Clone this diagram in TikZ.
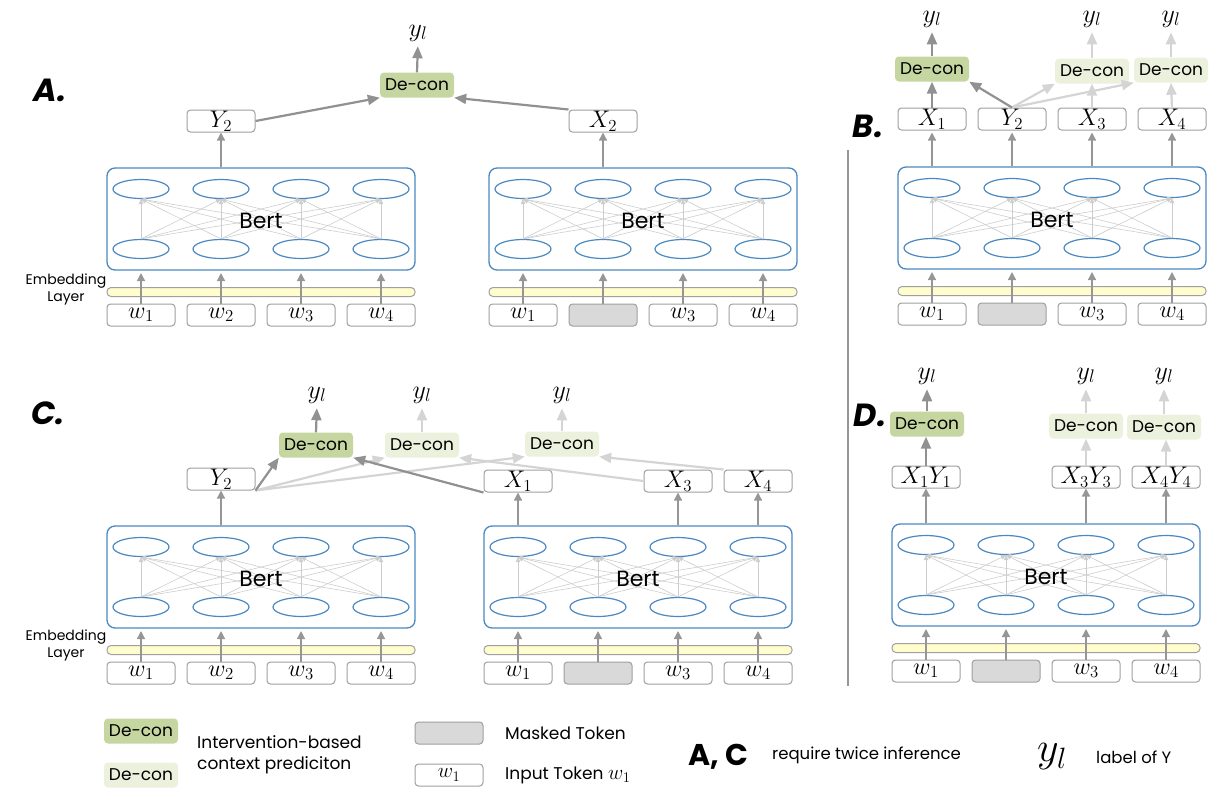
\RequirePackage{fix-cm}
\documentclass[tikz,border=0pt]{standalone}
\usepackage{fontspec}
\setmainfont{Poppins}
\usetikzlibrary{arrows.meta,shapes.geometric}
\definecolor{bertblue}{RGB}{75,135,192}
\definecolor{tokgray}{RGB}{160,160,160}
\definecolor{maskgray}{RGB}{217,217,217}
\definecolor{barfill}{RGB}{255,252,205}
\definecolor{innergray}{RGB}{205,205,205}
\definecolor{midgray}{RGB}{150,150,150}
\definecolor{darkarr}{RGB}{145,145,145}
\definecolor{lightarr}{RGB}{212,212,212}
\definecolor{decondark}{RGB}{198,214,160}
\definecolor{deconlight}{RGB}{235,241,220}
\tikzset{
  blk/.style={draw=bertblue, line width=1.3pt, rounded corners=8pt, minimum width=308pt, minimum height=102pt, inner sep=0pt},
  ell/.style={ellipse, draw=bertblue, line width=1.2pt, minimum width=56pt, minimum height=19pt, inner sep=0pt},
  tok/.style={draw=tokgray, line width=1pt, rounded corners=3.5pt, minimum width=68pt, minimum height=22pt, inner sep=0pt, fill=white, font=\fontsize{24}{26}\selectfont},
  masktok/.style={tok, fill=maskgray},
  embbar/.style={draw=tokgray, fill=barfill, line width=1pt, rounded corners=4pt, minimum width=308pt, minimum height=9pt, inner sep=0pt},
  dcd/.style={fill=decondark, rounded corners=4pt, minimum width=74pt, minimum height=25pt, inner sep=0pt, font=\fontsize{17}{19}\selectfont},
  dcl/.style={dcd, fill=deconlight},
  inarr/.style={draw=innergray, line width=0.6pt, -{Triangle[length=5pt,width=4.5pt]}},
  uparr/.style={draw=midgray, line width=1.4pt, -{Triangle[length=8pt,width=8pt]}},
  darkc/.style={draw=darkarr, line width=2.2pt, -{Triangle[length=12pt,width=10pt]}},
  lightc/.style={draw=lightarr, line width=2.2pt, -{Triangle[length=12pt,width=10pt]}},
  ylab/.style={font=\fontsize{26}{28}\selectfont, inner sep=0pt, anchor=base},
  plab/.style={font=\fontsize{32}{34}\selectfont\bfseries\itshape, inner sep=0pt},
  bertlab/.style={font=\fontsize{22}{24}\selectfont, inner sep=0pt},
  emb/.style={font=\fontsize{14}{17}\selectfont, align=center, inner sep=0pt},
  legtxt/.style={font=\fontsize{17}{21}\selectfont, align=left, inner sep=0pt, anchor=west},
  smalltxt/.style={font=\fontsize{16.5}{19}\selectfont, inner sep=0pt, anchor=west}
}
% #1 name, #2 left x, #3 top y, #4 masked index (0 = none)
\newcommand\bblock[4]{%
  \node[blk] (#1) at ({#2+154},{#3+51}) {};
  \foreach \i in {1,...,4}{
    \node[ell] (#1-t\i) at ({#2+34+80*(\i-1)},{#3+21}) {};
    \node[ell] (#1-b\i) at ({#2+34+80*(\i-1)},{#3+81}) {};
  }
  \foreach \i in {1,...,4}{
    \foreach \j in {1,...,4}{
      \draw[inarr] (#1-b\i.north) -- (#1-t\j.south);
    }
  }
  \node[bertlab] (#1-lbl) at ({#2+154},{#3+53}) {Bert};
  \node[embbar] (#1-bar) at ({#2+154},{#3+124}) {};
  \foreach \i in {1,...,4}{
    \ifnum\i=#4
      \node[masktok] (#1-w\i) at ({#2+34+80*(\i-1)},{#3+147}) {};
    \else
      \node[tok] (#1-w\i) at ({#2+34+80*(\i-1)},{#3+147}) {$w_\i$};
    \fi
    \coordinate (#1-in\i) at ({#2+34+80*(\i-1)},{#3+105});
    \draw[uparr] (#1-w\i.north) -- (#1-in\i);
  }
}
\begin{document}
\begin{tikzpicture}[x=1pt,y=-1pt]
\useasboundingbox (0,0) rectangle (1224,804);

% ---------- Panel A ----------
\node[plab] (labA) at (50,90) {A.};
\node[emb] (embA) at (66,289) {Embedding\\Layer};
\bblock{A1}{107}{168}{0}
\bblock{A2}{489}{168}{2}
\node[tok] (AY2) at (221,121) {$Y_2$};
\node[tok] (AX2) at (603,121) {$X_2$};
\draw[uparr] (AY2 |- A1.north) -- (AY2.south);
\draw[uparr] (AX2 |- A2.north) -- (AX2.south);
\node[dcd] (AD) at (417,85) {De-con};
\node[ylab] (Ay) at (418,36) {$y_l$};
\draw[darkc] (AY2.east) -- (AD.south west);
\draw[darkc] (AX2.north west) -- (AD.south east);
\draw[darkc, shorten >=5pt] (AD.north) -- (Ay.south);

% ---------- Panel B ----------
\draw[draw=midgray, line width=1.5pt] (848,150) -- (848,686);
\node[plab] (labB) at (868,126) {B.};
\bblock{B}{898}{167}{2}
\node[tok] (BX1) at (932,119) {$X_1$};
\node[tok] (BY2) at (1012,119) {$Y_2$};
\node[tok] (BX3) at (1092,119) {$X_3$};
\node[tok] (BX4) at (1172,119) {$X_4$};
\foreach \n in {BX1,BY2,BX3,BX4}{\draw[uparr, shorten >=2pt] (\n |- B.north) -- (\n.south);}
\node[dcd] (BD1) at (932,69) {De-con};
\node[dcl] (BD3) at (1092,71) {De-con};
\node[dcl] (BD4) at (1171,70) {De-con};
\node[ylab] (By1) at (932,22) {$y_l$};
\node[ylab] (By3) at (1092,22) {$y_l$};
\node[ylab] (By4) at (1171,22) {$y_l$};
\draw[lightc] (BY2.north) -- (BD3.south west);
\draw[lightc] (BY2.north) -- (BD4.south west);
\draw[lightc] (BX3.north) -- (BD3.south);
\draw[lightc] (BX4.north) -- (BD4 |- BD4.south);
\draw[darkc] (BX1.north) -- (BD1.south);
\draw[darkc] (BY2.north) -- (BD1.south east);
\draw[darkc, shorten >=5pt] (BD1.north) -- (By1.south);
\draw[lightc, shorten >=5pt] (BD3.north) -- (By3.south);
\draw[lightc, shorten >=5pt] (BD4.north) -- (By4.south);

% ---------- Panel C ----------
\node[plab] (labC) at (48,413) {C.};
\node[emb] (embC) at (66,645) {Embedding\\Layer};
\bblock{C1}{107}{526}{0}
\bblock{C2}{484}{526}{2}
\node[tok] (CY2) at (221,479) {$Y_2$};
\node[tok] (CX1) at (518,481) {$X_1$};
\node[tok] (CX3) at (678,481) {$X_3$};
\node[tok] (CX4) at (758,481) {$X_4$};
\draw[uparr] (CY2 |- C1.north) -- (CY2.south);
\foreach \n in {CX1,CX3,CX4}{\draw[uparr] (\n |- C2.north) -- (\n.south);}
\node[dcd] (CD1) at (316,445) {De-con};
\node[dcl] (CD2) at (422,445) {De-con};
\node[dcl] (CD3) at (562,444) {De-con};
\node[ylab] (Cy1) at (317,398) {$y_l$};
\node[ylab] (Cy2) at (422,398) {$y_l$};
\node[ylab] (Cy3) at (562,398) {$y_l$};
\draw[lightc] (CY2.south east) -- (CD2.south west);
\draw[lightc] (CY2.south east) -- (CD3.south west);
\draw[lightc] (CX3.west) -- (CD2.south east);
\draw[lightc] (CX4.north west) -- (CD3.south east);
\draw[darkc] (CY2.south east) -- (CD1.south west);
\draw[darkc] (CX1.south west) -- (CD1.south east);
\draw[darkc, shorten >=5pt] (CD1.north) -- (Cy1.south);
\draw[lightc, shorten >=5pt] (CD2.north) -- (Cy2.south);
\draw[lightc, shorten >=5pt] (CD3.north) -- (Cy3.south);

% ---------- Panel D ----------
\node[plab] (labD) at (870,415) {D.};
\bblock{D}{892}{524}{2}
\node[tok] (DX1) at (926,477) {$X_1Y_1$};
\node[tok] (DX3) at (1086,477) {$X_3Y_3$};
\node[tok] (DX4) at (1166,477) {$X_4Y_4$};
\foreach \n in {DX1,DX3,DX4}{\draw[uparr] (\n |- D.north) -- (\n.south);}
\node[dcd] (DD1) at (927,424) {De-con};
\node[dcl] (DD3) at (1086,426) {De-con};
\node[dcl] (DD4) at (1164,427) {De-con};
\node[ylab] (Dy1) at (927,379) {$y_l$};
\node[ylab] (Dy3) at (1086,379) {$y_l$};
\node[ylab] (Dy4) at (1164,379) {$y_l$};
\draw[darkc] (DX1.north) -- (DX1 |- DD1.south);
\draw[lightc] (DX3.north) -- (DD3.south);
\draw[lightc] (DX4.north) -- (DX4 |- DD4.south);
\draw[darkc, shorten >=5pt] (DD1.north) -- (Dy1.south);
\draw[lightc, shorten >=5pt] (DD3.north) -- (Dy3.south);
\draw[lightc, shorten >=5pt] (DD4.north) -- (Dy4.south);

% ---------- Legend ----------
\node[dcd] (LD1) at (141,731) {De-con};
\node[dcl] (LD2) at (141,775) {De-con};
\node[legtxt] (Ltxt) at (197,755) {Intervention-based\\context prediciton};
\node[masktok] (Lmask) at (449,733) {};
\node[tok, font=\fontsize{21}{23}\selectfont] (Lw) at (449,775) {$w_1$};
\node[legtxt] (Lmt) at (505,733) {Masked Token};
\node[legtxt] (Lit) at (505,775) {Input Token \fontsize{21}{23}\selectfont$w_1$};
\node[font=\fontsize{30}{32}\selectfont\bfseries, inner sep=0pt, anchor=west] (LAC) at (688,757) {A, C};
\node[smalltxt] (Ltw) at (772,755) {require twice inference};
\node[font=\fontsize{42}{44}\selectfont, inner sep=0pt] (Lyl) at (1052,757) {$y_l$};
\node[smalltxt] (Llab) at (1096,757) {label of Y};
\end{tikzpicture}
\end{document}
